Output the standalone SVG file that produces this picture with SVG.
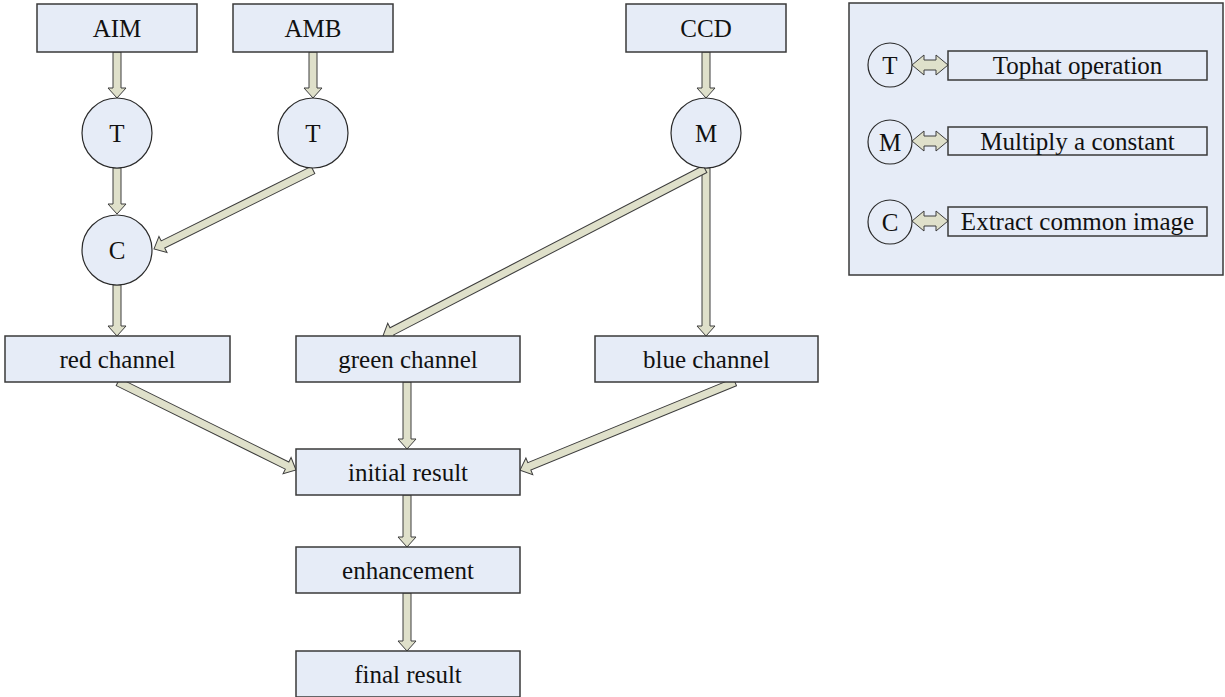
<svg xmlns="http://www.w3.org/2000/svg" width="1225" height="697" viewBox="0 0 1225 697">
  <style>
    .box { fill: #e6ecf7; stroke: #3a3a3a; stroke-width: 1.5; }
    .circ { fill: #e6ecf7; stroke: #2a2a2a; stroke-width: 1.2; }
    .lgbox { fill: #e6ecf7; stroke: #3a3a3a; stroke-width: 1.5; }
    .arrow { fill: #dfe0ca; stroke: #3c3c3c; stroke-width: 1; stroke-linejoin: miter; }
    text { font-family: "Liberation Serif", "Times New Roman", serif; font-size: 25px; fill: #111; text-anchor: middle; }
  </style>
  <defs>
    <!-- two-headed block arrow used in the legend -->
    <polygon id="dbl" class="arrow" points="0,0 12,-10 12,-5 24,-5 24,-10 36,0 24,10 24,5 12,5 12,10"/>
  </defs>

  <!-- connectors -->
  <g id="connectors">
    <!-- vertical block arrows: shaft 8 wide, head 18 wide, 10 long -->
    <polygon class="arrow" points="113,52 121,52 121,88 126,88 117,98 108,88 113,88"/>
    <polygon class="arrow" points="309,52 317,52 317,88 322,88 313,98 304,88 309,88"/>
    <polygon class="arrow" points="702,52 710,52 710,88 715,88 706,98 697,88 702,88"/>
    <polygon class="arrow" points="113,168 121,168 121,204 126,204 117,214 108,204 113,204"/>
    <polygon class="arrow" points="113,285 121,285 121,326 126,326 117,336 108,326 113,326"/>
    <polygon class="arrow" points="702,168 710,168 710,326 715,326 706,336 697,326 702,326"/>
    <polygon class="arrow" points="403,382 411,382 411,439 416,439 407,449 398,439 403,439"/>
    <polygon class="arrow" points="403,495 411,495 411,537 416,537 407,547 398,537 403,537"/>
    <polygon class="arrow" points="403,593 411,593 411,641 416,641 407,651 398,641 403,641"/>
    <!-- slanted block arrows, drawn along +x then rotated -->
    <polygon class="arrow" transform="translate(313,170) rotate(153.6)" points="0,-4 167.5,-4 167.5,-9 177.5,0 167.5,9 167.5,4 0,4"/>
    <polygon class="arrow" transform="translate(705,169) rotate(152.6)" points="0,-4 352.7,-4 352.7,-9 362.7,0 352.7,9 352.7,4 0,4"/>
    <polygon class="arrow" transform="translate(118,382) rotate(26.3)" points="0,-4 188.6,-4 188.6,-9 198.6,0 188.6,9 188.6,4 0,4"/>
    <polygon class="arrow" transform="translate(735,382) rotate(157.7)" points="0,-4 222.3,-4 222.3,-9 232.3,0 222.3,9 222.3,4 0,4"/>
  </g>

  <g font-family="'Liberation Serif', 'Times New Roman', serif">
    <!-- source images -->
    <g id="aim"><rect class="box" x="37" y="4" width="160" height="48"/><text x="117" y="36.5">AIM</text></g>
    <g id="amb"><rect class="box" x="233" y="4" width="160" height="48"/><text x="313" y="36.5">AMB</text></g>
    <g id="ccd"><rect class="box" x="626" y="4" width="160" height="48"/><text x="706" y="36.5">CCD</text></g>

    <!-- operations -->
    <g id="tophat1"><circle class="circ" cx="117" cy="133" r="35"/><text x="117" y="141.5">T</text></g>
    <g id="tophat2"><circle class="circ" cx="313" cy="133" r="35"/><text x="313" y="141.5">T</text></g>
    <g id="multiply"><circle class="circ" cx="706" cy="133" r="35"/><text x="706" y="141.5">M</text></g>
    <g id="common"><circle class="circ" cx="117" cy="250" r="35"/><text x="117" y="258.5">C</text></g>

    <!-- channels -->
    <g id="red"><rect class="box" x="5" y="336" width="225" height="46"/><text x="117.5" y="367.5">red channel</text></g>
    <g id="green"><rect class="box" x="296" y="336" width="224" height="46"/><text x="408" y="367.5">green channel</text></g>
    <g id="blue"><rect class="box" x="595" y="336" width="223" height="46"/><text x="706.5" y="367.5">blue channel</text></g>

    <!-- results -->
    <g id="initial"><rect class="box" x="296" y="449" width="224" height="46"/><text x="408" y="480.5">initial result</text></g>
    <g id="enhancement"><rect class="box" x="296" y="547" width="224" height="46"/><text x="408" y="578.5">enhancement</text></g>
    <g id="final"><rect class="box" x="296" y="651" width="224" height="46"/><text x="408" y="682.5">final result</text></g>

    <!-- legend -->
    <g id="legend">
      <rect class="lgbox" x="849" y="3" width="374" height="272"/>
      <g id="legend-t">
        <circle class="circ" cx="890" cy="65" r="22"/><text x="890" y="73.5">T</text>
        <use href="#dbl" x="912" y="65"/>
        <rect class="box" x="948" y="51" width="259" height="29"/><text x="1077.5" y="74">Tophat operation</text>
      </g>
      <g id="legend-m">
        <circle class="circ" cx="890" cy="142" r="22"/><text x="890" y="150.5">M</text>
        <use href="#dbl" x="912" y="141"/>
        <rect class="box" x="948" y="127" width="259" height="28"/><text x="1077.5" y="149.5">Multiply a constant</text>
      </g>
      <g id="legend-c">
        <circle class="circ" cx="890" cy="222" r="22"/><text x="890" y="230.5">C</text>
        <use href="#dbl" x="912" y="221"/>
        <rect class="box" x="948" y="207" width="259" height="29"/><text x="1077.5" y="230">Extract common image</text>
      </g>
    </g>
  </g>
</svg>
